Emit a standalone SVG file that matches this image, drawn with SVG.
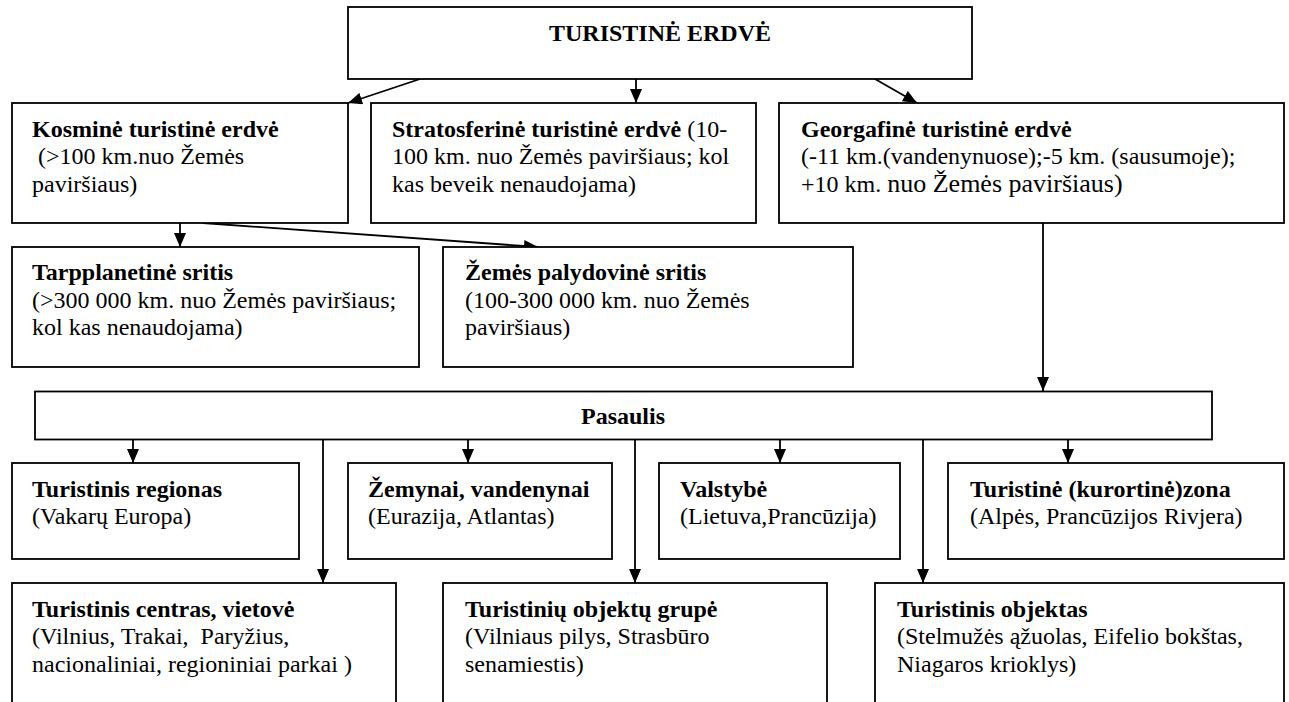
<svg xmlns="http://www.w3.org/2000/svg" width="1289" height="702" viewBox="0 0 1289 702">
<style>
.box{fill:#fff;stroke:#000;stroke-width:1.8}
.t{font-family:"Liberation Serif","Times New Roman",serif;font-size:24px;fill:#000}
.b{font-weight:bold}
.big{font-size:26px}
.c{stroke:#000;stroke-width:1.8;fill:none;marker-end:url(#ah)}
</style>
<defs>
<marker id="ah" viewBox="0 0 14 12" markerWidth="14" markerHeight="12" refX="14" refY="6" orient="auto" markerUnits="userSpaceOnUse">
<path d="M0,0 L14,6 L0,12 z" fill="#000"/>
</marker>
</defs>
<rect width="1289" height="702" fill="#fff"/>

<g id="connectors">
<line class="c" x1="420" y1="79" x2="348" y2="103"/>
<line class="c" x1="636" y1="79" x2="636" y2="103"/>
<line class="c" x1="875" y1="79" x2="917" y2="103"/>
<line class="c" x1="180" y1="223" x2="180" y2="247"/>
<line class="c" x1="203" y1="223" x2="538" y2="247"/>
<line class="c" x1="1043" y1="223" x2="1043" y2="391"/>
<line class="c" x1="133" y1="439" x2="133" y2="463"/>
<line class="c" x1="323" y1="439" x2="323" y2="583"/>
<line class="c" x1="468" y1="439" x2="468" y2="463"/>
<line class="c" x1="635" y1="439" x2="635" y2="583"/>
<line class="c" x1="780" y1="439" x2="780" y2="463"/>
<line class="c" x1="923" y1="439" x2="923" y2="583"/>
<line class="c" x1="1068" y1="439" x2="1068" y2="463"/>
</g>

<g id="turistine-erdve">
<rect class="box" x="348" y="7" width="624" height="72"/>
<text class="t b" x="660" y="41" text-anchor="middle">TURISTINĖ ERDVĖ</text>
</g>

<g id="kosmine">
<rect class="box" x="12" y="103" width="336" height="120"/>
<text class="t" x="32" y="136.7" xml:space="preserve"><tspan class="b">Kosminė turistinė erdvė</tspan><tspan x="32" y="164.3"> (&gt;100 km.nuo Žemės</tspan><tspan x="32" y="191.9">paviršiaus)</tspan></text>
</g>

<g id="stratosferine">
<rect class="box" x="371" y="103" width="385" height="120"/>
<text class="t" x="392" y="136.7" xml:space="preserve"><tspan class="b">Stratosferinė turistinė erdvė</tspan> (10-<tspan x="392" y="164.3">100 km. nuo Žemės paviršiaus; kol</tspan><tspan x="392" y="191.9">kas beveik nenaudojama)</tspan></text>
</g>

<g id="georgafine">
<rect class="box" x="779" y="103" width="505" height="120"/>
<text class="t" x="801" y="136.7" xml:space="preserve"><tspan class="b">Georgafinė turistinė erdvė</tspan><tspan x="801" y="164.3">(-11 km.(vandenynuose);-5 km. (sausumoje);</tspan><tspan x="801" y="191.9">+10 km. <tspan class="big">nuo Žemės paviršiaus)</tspan></tspan></text>
</g>

<g id="tarpplanetine">
<rect class="box" x="12" y="247" width="407" height="120"/>
<text class="t" x="32" y="280" xml:space="preserve"><tspan class="b">Tarpplanetinė sritis</tspan><tspan x="32" y="307.6">(&gt;300 000 km. nuo Žemės paviršiaus;</tspan><tspan x="32" y="335.2">kol kas nenaudojama)</tspan></text>
</g>

<g id="zemes-palydovine">
<rect class="box" x="443" y="247" width="410" height="120"/>
<text class="t" x="465" y="280" xml:space="preserve"><tspan class="b">Žemės palydovinė sritis</tspan><tspan x="465" y="307.6">(100-300 000 km. nuo Žemės</tspan><tspan x="465" y="335.2">paviršiaus)</tspan></text>
</g>

<g id="pasaulis">
<rect class="box" x="35" y="391.5" width="1177" height="48"/>
<text class="t b" x="623" y="424" text-anchor="middle">Pasaulis</text>
</g>

<g id="regionas">
<rect class="box" x="12" y="463" width="287" height="96"/>
<text class="t" x="32" y="496.7"><tspan class="b">Turistinis regionas</tspan><tspan x="32" y="524.3">(Vakarų Europa)</tspan></text>
</g>

<g id="zemynai">
<rect class="box" x="348" y="463" width="264" height="96"/>
<text class="t" x="368" y="496.7"><tspan class="b">Žemynai, vandenynai</tspan><tspan x="368" y="524.3">(Eurazija, Atlantas)</tspan></text>
</g>

<g id="valstybe">
<rect class="box" x="659" y="463" width="241" height="96"/>
<text class="t" x="680" y="496.7"><tspan class="b">Valstybė</tspan><tspan x="680" y="524.3">(Lietuva,Prancūzija)</tspan></text>
</g>

<g id="zona">
<rect class="box" x="948" y="463" width="336" height="96"/>
<text class="t" x="970" y="496.7"><tspan class="b">Turistinė (kurortinė)zona</tspan><tspan x="970" y="524.3">(Alpės, Prancūzijos Rivjera)</tspan></text>
</g>

<g id="centras">
<rect class="box" x="12" y="583" width="384" height="140"/>
<text class="t" x="32" y="616.7" xml:space="preserve"><tspan class="b">Turistinis centras, vietovė</tspan><tspan x="32" y="644.3">(Vilnius, Trakai,  Paryžius,</tspan><tspan x="32" y="671.9">nacionaliniai, regioniniai parkai )</tspan></text>
</g>

<g id="grupe">
<rect class="box" x="443" y="583" width="384" height="140"/>
<text class="t" x="465" y="616.7"><tspan class="b">Turistinių objektų grupė</tspan><tspan x="465" y="644.3">(Vilniaus pilys, Strasbūro</tspan><tspan x="465" y="671.9">senamiestis)</tspan></text>
</g>

<g id="objektas">
<rect class="box" x="875" y="583" width="409" height="140"/>
<text class="t" x="897" y="616.7"><tspan class="b">Turistinis objektas</tspan><tspan x="897" y="644.3">(Stelmužės ąžuolas, Eifelio bokštas,</tspan><tspan x="897" y="671.9">Niagaros krioklys)</tspan></text>
</g>
</svg>
